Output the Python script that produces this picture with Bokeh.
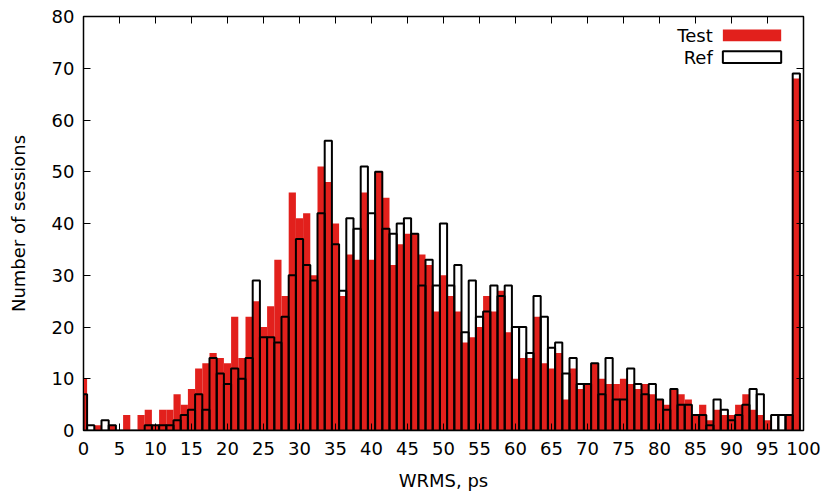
from bokeh.plotting import figure
from bokeh.models import FixedTicker, LinearAxis, Range1d, BoxAnnotation, Label
from bokeh.embed import file_html
from bokeh.resources import INLINE

# ---- data ----
bins = list(range(100))
test = [10, 0, 1, 0, 1, 0, 3, 0, 3, 4,
        1, 4, 4, 7, 5, 8, 12, 13, 15, 14,
        13, 22, 14, 22, 25, 20, 24, 33, 26, 46,
        41, 42, 30, 51, 48, 40, 26, 34, 33, 46,
        33, 50, 45, 32, 36, 38, 38, 34, 32, 23,
        30, 26, 23, 17, 18, 20, 26, 23, 27, 19,
        10, 14, 14, 22, 13, 12, 15, 6, 12, 8,
        9, 13, 10, 9, 9, 10, 9, 8, 9, 7,
        6, 5, 8, 7, 6, 3, 5, 2, 4, 3,
        3, 5, 7, 4, 3, 2, 0, 0, 3, 68]
ref = [7, 1, 0, 2, 1, 0, 0, 0, 0, 1,
       1, 1, 1, 2, 3, 4, 7, 4, 14, 11,
       9, 12, 10, 14, 29, 18, 18, 17, 22, 30,
       37, 32, 29, 42, 56, 36, 27, 41, 39, 51,
       42, 50, 39, 38, 40, 41, 38, 28, 33, 28,
       40, 28, 32, 19, 29, 22, 23, 28, 26, 28,
       20, 20, 15, 26, 22, 16, 17, 11, 14, 9,
       9, 13, 7, 14, 6, 6, 12, 9, 7, 9,
       6, 4, 8, 5, 5, 3, 3, 1, 6, 4,
       2, 3, 5, 8, 7, 0, 3, 3, 3, 69]
series_names = ["Test", "Ref"]
x_ticks = list(range(0, 101, 5))
y_ticks = list(range(0, 81, 10))

RED = "#e2201c"
FONT = "DejaVu Sans"
FS = "18px"

p = figure(frame_width=720, frame_height=414,
           x_range=Range1d(0, 100), y_range=Range1d(0, 80),
           output_backend="svg", toolbar_location=None,
           min_border_left=83, min_border_right=24,
           min_border_top=16, min_border_bottom=65)
p.background_fill_color = "white"
p.border_fill_color = "white"
p.outline_line_color = "black"
p.outline_line_width = 1.5
p.xgrid.visible = False
p.ygrid.visible = False

p.vbar(x=bins, top=test, width=1, bottom=0, fill_color=RED, line_color=None)
p.vbar(x=bins, top=ref, width=1, bottom=0, fill_color=None,
       line_color="black", line_width=2)

for ax in (p.xaxis[0], p.yaxis[0]):
    ax.major_tick_in = 7
    ax.major_tick_out = 0
    ax.minor_tick_line_color = None
    ax.axis_line_color = "black"
    ax.major_tick_line_color = "black"
    ax.major_label_text_font = FONT
    ax.major_label_text_font_size = FS
    ax.major_label_text_color = "black"
    ax.axis_label_text_font = FONT
    ax.axis_label_text_font_size = FS
    ax.axis_label_text_font_style = "normal"
    ax.axis_label_text_color = "black"

p.xaxis[0].ticker = FixedTicker(ticks=x_ticks)
p.yaxis[0].ticker = FixedTicker(ticks=y_ticks)
p.xaxis[0].axis_label = "WRMS, ps"
p.yaxis[0].axis_label = "Number of sessions"
p.xaxis[0].major_label_standoff = 11
p.xaxis[0].axis_label_standoff = 12
p.yaxis[0].major_label_standoff = 9
p.yaxis[0].axis_label_standoff = 20

# mirror ticks (top and right) like gnuplot
top = LinearAxis(ticker=FixedTicker(ticks=x_ticks))
right = LinearAxis(ticker=FixedTicker(ticks=y_ticks))
for ax in (top, right):
    ax.major_tick_in = 7
    ax.major_tick_out = 0
    ax.minor_tick_line_color = None
    ax.major_label_text_font_size = "0px"
    ax.major_label_text_color = None
    ax.major_label_standoff = 0
    ax.axis_line_color = "black"
p.add_layout(top, "above")
p.add_layout(right, "right")

# legend, gnuplot style (text left of sample)
p.add_layout(BoxAnnotation(left=88.8, right=96.9, bottom=75.2, top=77.5,
                           fill_color=RED, fill_alpha=1.0, line_color=None))
p.add_layout(BoxAnnotation(left=88.8, right=96.9, bottom=71.0, top=73.3,
                           fill_color="white", fill_alpha=1.0,
                           line_color="black", line_width=2, line_alpha=1.0))
p.add_layout(Label(x=87.4, y=76.35, text=series_names[0], text_align="right",
                   text_baseline="middle", text_font=FONT, text_font_size=FS,
                   text_color="black"))
p.add_layout(Label(x=87.4, y=72.15, text=series_names[1], text_align="right",
                   text_baseline="middle", text_font=FONT, text_font_size=FS,
                   text_color="black"))

open("out.html", "w").write(file_html(p, INLINE))
